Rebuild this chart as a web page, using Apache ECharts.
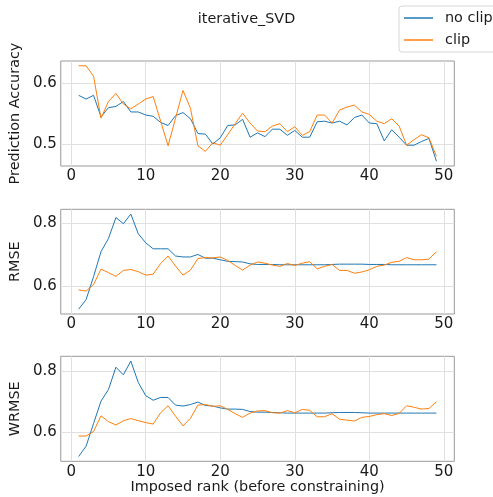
<!DOCTYPE html>
<html>
<head>
<meta charset="utf-8">
<script src="https://cdn.jsdelivr.net/npm/echarts@6/dist/echarts.min.js"></script>
<style>
  html, body { margin: 0; padding: 0; background: #fff; }
  #chart { width: 493px; height: 497px; }
</style>
</head>
<body>
<div id="chart"></div>
<script>
const rank = [1, 2, 3, 4, 5, 6, 7, 8, 9, 10, 11, 12, 13, 14, 15, 16, 17, 18, 19, 20,
  21, 22, 23, 24, 25, 26, 27, 28, 29, 30, 31, 32, 33, 34, 35, 36, 37, 38, 39, 40,
  41, 42, 43, 44, 45, 46, 47, 48, 49]

const accNoClip = [0.580, 0.574, 0.580, 0.545, 0.560, 0.562, 0.570, 0.553, 0.553, 0.548,
  0.546, 0.536, 0.531, 0.547, 0.552, 0.542, 0.518, 0.517, 0.501, 0.511,
  0.531, 0.532, 0.541, 0.512, 0.519, 0.513, 0.525, 0.525, 0.515, 0.523,
  0.512, 0.512, 0.537, 0.538, 0.535, 0.538, 0.532, 0.544, 0.548, 0.535,
  0.534, 0.506, 0.524, 0.512, 0.499, 0.499, 0.505, 0.510, 0.473]
const accClip = [0.628, 0.628, 0.611, 0.543, 0.570, 0.583, 0.566, 0.558, 0.566, 0.574,
  0.578, 0.538, 0.498, 0.543, 0.588, 0.559, 0.498, 0.489, 0.503, 0.499,
  0.516, 0.534, 0.551, 0.535, 0.522, 0.521, 0.530, 0.534, 0.521, 0.529,
  0.515, 0.521, 0.548, 0.548, 0.535, 0.556, 0.561, 0.564, 0.553, 0.549,
  0.538, 0.534, 0.542, 0.530, 0.499, 0.508, 0.516, 0.511, 0.481]

const rmseNoClip = [0.526, 0.557, 0.630, 0.710, 0.752, 0.819, 0.799, 0.830, 0.767, 0.738,
  0.719, 0.719, 0.719, 0.696, 0.693, 0.693, 0.701, 0.689, 0.689, 0.684,
  0.679, 0.678, 0.677, 0.671, 0.669, 0.669, 0.669, 0.668, 0.668, 0.668,
  0.668, 0.668, 0.668, 0.668, 0.669, 0.670, 0.670, 0.670, 0.670, 0.669,
  0.669, 0.669, 0.668, 0.668, 0.668, 0.668, 0.668, 0.668, 0.668]
const rmseClip = [0.588, 0.584, 0.605, 0.654, 0.643, 0.631, 0.650, 0.653, 0.646, 0.635,
  0.638, 0.672, 0.696, 0.664, 0.635, 0.651, 0.688, 0.691, 0.690, 0.693,
  0.682, 0.666, 0.651, 0.667, 0.677, 0.673, 0.667, 0.663, 0.672, 0.666,
  0.673, 0.678, 0.655, 0.663, 0.669, 0.650, 0.650, 0.641, 0.645, 0.652,
  0.663, 0.667, 0.676, 0.679, 0.691, 0.684, 0.684, 0.686, 0.710]

const wrmseNoClip = [0.521, 0.555, 0.629, 0.702, 0.740, 0.813, 0.788, 0.833, 0.763, 0.720,
  0.705, 0.714, 0.714, 0.689, 0.686, 0.691, 0.699, 0.688, 0.686, 0.680,
  0.676, 0.676, 0.675, 0.668, 0.666, 0.666, 0.665, 0.664, 0.663, 0.663,
  0.663, 0.663, 0.663, 0.663, 0.664, 0.665, 0.665, 0.665, 0.664, 0.663,
  0.663, 0.663, 0.663, 0.663, 0.663, 0.663, 0.663, 0.663, 0.663]
const wrmseClip = [0.588, 0.588, 0.603, 0.654, 0.635, 0.624, 0.638, 0.645, 0.638, 0.632,
  0.627, 0.664, 0.687, 0.653, 0.621, 0.646, 0.689, 0.691, 0.685, 0.687,
  0.675, 0.661, 0.649, 0.663, 0.670, 0.671, 0.664, 0.663, 0.671, 0.664,
  0.675, 0.672, 0.651, 0.651, 0.661, 0.643, 0.640, 0.637, 0.649, 0.652,
  0.658, 0.661, 0.655, 0.662, 0.687, 0.682, 0.676, 0.678, 0.700]

const xTicks = [0, 10, 20, 30, 40, 50]
const accTicks = [0.5, 0.6]
const rmseTicks = [0.6, 0.8]
const wrmseTicks = [0.6, 0.8]

const FONT = 'DejaVu Sans'
const TEXT = '#1a1a1a'
const BLUE = '#1f77b4'
const ORANGE = '#ff7f0e'

const panels = [
  { name: 'Prediction Accuracy', top: 61, height: 105, min: 0.4652, max: 0.6358, ticks: accTicks, a: accNoClip, b: accClip },
  { name: 'RMSE', top: 209.3, height: 104.7, min: 0.5108, max: 0.8452, ticks: rmseTicks, a: rmseNoClip, b: rmseClip },
  { name: 'WRMSE', top: 356.3, height: 105, min: 0.5054, max: 0.8486, ticks: wrmseTicks, a: wrmseNoClip, b: wrmseClip }
]

const pairs = (vals) => rank.map((r, i) => [r, vals[i]])

const chart = echarts.init(document.getElementById('chart'), null, { renderer: 'canvas' })

chart.setOption({
  animation: false,
  backgroundColor: '#fff',
  textStyle: { fontFamily: FONT },
  title: {
    text: 'iterative_SVD',
    left: 'center',
    top: 7,
    textStyle: { fontFamily: FONT, fontSize: 14.4, fontWeight: 'normal', color: TEXT }
  },
  legend: {
    data: ['no clip', 'clip'],
    orient: 'vertical',
    left: 399,
    top: 6,
    padding: [4, 12, 4, 5],
    itemWidth: 29,
    itemHeight: 1.5,
    itemGap: 6,
    icon: 'rect',
    backgroundColor: '#fff',
    borderColor: '#d6d6d6',
    borderWidth: 1,
    borderRadius: 3,
    textStyle: { fontFamily: FONT, fontSize: 14.4, color: TEXT, lineHeight: 16, padding: [0, 0, 0, 7] }
  },
  grid: panels.map((p) => ({
    left: 51,
    width: 403.3,
    top: p.top,
    height: p.height,
    show: true,
    borderColor: '#999',
    borderWidth: 1
  })),
  xAxis: panels.map((p, i) => ({
    type: 'value',
    gridIndex: i,
    min: -1.4,
    max: 51.4,
    name: i === panels.length - 1 ? 'Imposed rank (before constraining)' : '',
    nameLocation: 'middle',
    nameGap: 18,
    nameTextStyle: { fontFamily: FONT, fontSize: 14.4, color: TEXT },
    axisLine: { show: false },
    axisTick: { show: false, customValues: xTicks },
    axisLabel: { customValues: xTicks, fontFamily: FONT, fontSize: 15, color: TEXT, margin: 3 },
    splitLine: { show: true, lineStyle: { color: '#e0e0e0', width: 1 } }
  })),
  yAxis: panels.map((p, i) => ({
    type: 'value',
    gridIndex: i,
    min: p.min,
    max: p.max,
    name: p.name,
    nameLocation: 'middle',
    nameGap: 28,
    nameTextStyle: { fontFamily: FONT, fontSize: 14.4, color: TEXT },
    axisLine: { show: false },
    axisTick: { show: false, customValues: p.ticks },
    axisLabel: { customValues: p.ticks, fontFamily: FONT, fontSize: 15, color: TEXT, margin: 4 },
    splitLine: { show: true, lineStyle: { color: '#e0e0e0', width: 1 } }
  })),
  series: panels.flatMap((p, i) => [
    {
      name: 'no clip', type: 'line', xAxisIndex: i, yAxisIndex: i,
      showSymbol: false, symbol: 'none', color: BLUE,
      lineStyle: { width: 1, color: BLUE },
      data: pairs(p.a)
    },
    {
      name: 'clip', type: 'line', xAxisIndex: i, yAxisIndex: i,
      showSymbol: false, symbol: 'none', color: ORANGE,
      lineStyle: { width: 1, color: ORANGE },
      data: pairs(p.b)
    }
  ])
})
</script>
</body>
</html>
